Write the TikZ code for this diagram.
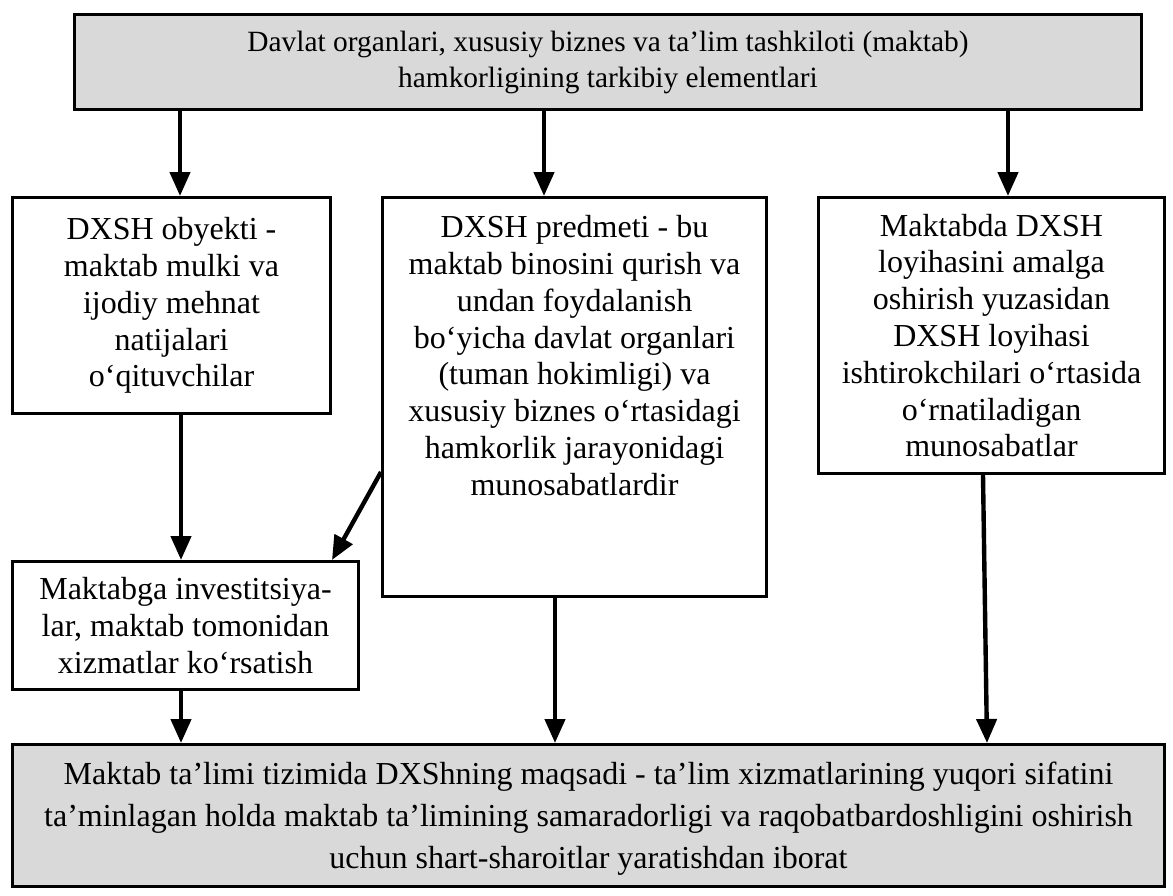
\documentclass[tikz,border=0pt]{standalone}
\usepackage{fontspec}
\setmainfont{Liberation Serif}
\usetikzlibrary{arrows.meta,calc}
\newlength\pxu
\setlength\pxu{0.5pt}
\begin{document}
\begin{tikzpicture}[x=0.5pt,y=-0.5pt,
  box/.style={draw=black,line width=1.5pt,inner sep=0pt,anchor=north west,fill=white},
  graybox/.style={box,fill=gray!30},
  arr/.style={line width=2.2pt,-{Triangle[length=12pt,width=10pt]}},
  every node/.style={font=\fontsize{16}{18.4}\selectfont}]
\fill[white] (0,0) rectangle (1173,895);
\useasboundingbox (0,0) rectangle (1173,895);

\node[graybox] (top) at (73,13) {\parbox[c][95\pxu][c]{1067\pxu}{\centering\fontsize{14.7}{18}\selectfont
Davlat organlari, xususiy biznes va ta’lim tashkiloti (maktab)\\
hamkorligining tarkibiy elementlari}};

\node[box] (A) at (11,196) {\parbox[c][216\pxu][c]{318\pxu}{\centering
DXSH obyekti -\\ maktab mulki va\\ ijodiy mehnat\\ natijalari\\ o‘qituvchilar}};

\node[box] (B) at (381,196) {\parbox[c][399\pxu][t]{384\pxu}{\centering\vspace*{18\pxu}
DXSH predmeti - bu\\ maktab binosini qurish va\\ undan foydalanish\\ bo‘yicha davlat organlari\\ (tuman hokimligi) va\\ xususiy biznes o‘rtasidagi\\ hamkorlik jarayonidagi\\ munosabatlardir}};

\node[box] (C) at (817,196) {\parbox[c][276\pxu][c]{346\pxu}{\centering
Maktabda DXSH\\ loyihasini amalga\\ oshirish yuzasidan\\ DXSH loyihasi\\ ishtirokchilari o‘rtasida\\ o‘rnatiladigan\\ munosabatlar}};

\node[box] (D) at (11,560) {\parbox[c][128\pxu][c]{346\pxu}{\centering
Maktabga investitsiya-\\ lar, maktab tomonidan\\ xizmatlar ko‘rsatish}};

\node[graybox] (bot) at (11,743) {\parbox[c][142\pxu][c]{1152\pxu}{\centering\fontsize{16}{21}\selectfont\vspace*{6\pxu}
Maktab ta’limi tizimida DXShning maqsadi - ta’lim xizmatlarining yuqori sifatini\\
ta’minlagan holda maktab ta’limining samaradorligi va raqobatbardoshligini oshirish\\
uchun shart-sharoitlar yaratishdan iborat}};

\coordinate (x1) at (180,0);
\coordinate (x2) at (544,0);
\coordinate (x3) at (1008,0);
\coordinate (x4) at (181,0);
\coordinate (x5) at (555,0);
\coordinate (x6) at (983,0);
\coordinate (x7) at (987,0);

\draw[arr] (top.south -| x1) -- (A.north -| x1);
\draw[arr] (top.south -| x2) -- (B.north -| x2);
\draw[arr] (top.south -| x3) -- (C.north -| x3);
\draw[arr] (A.south -| x4) -- (D.north -| x4);
\draw[arr] ($(B.north west)+(0,276)$) -- (D.north -| A.east);
\draw[arr] (D.south -| x4) -- (bot.north -| x4);
\draw[arr] (B.south -| x5) -- (bot.north -| x5);
\draw[arr] (C.south -| x6) -- (bot.north -| x7);
\end{tikzpicture}
\end{document}
